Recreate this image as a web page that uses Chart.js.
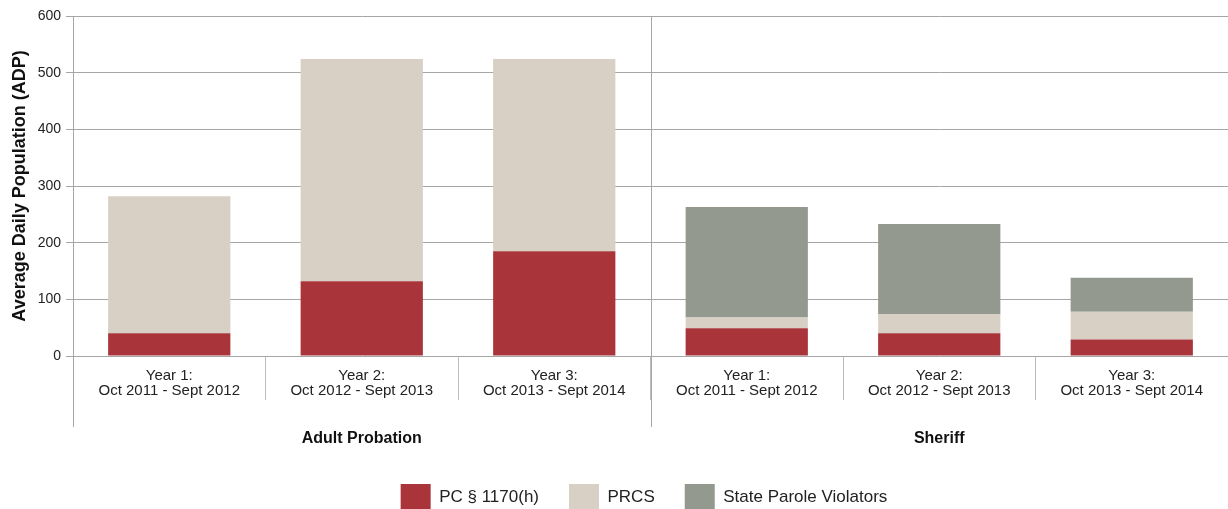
<!DOCTYPE html>
<html>
<head>
<meta charset="utf-8">
<script src="https://cdn.jsdelivr.net/npm/chart.js@4.4.1/dist/chart.umd.min.js"></script>
<style>
  html, body { margin: 0; padding: 0; background: #fff; }
  #wrap { width: 1228px; height: 509px; position: relative; }
</style>
</head>
<body>
<div id="wrap"><canvas id="adp-chart"></canvas></div>
<script>
// categories (two-line labels) and the two groups they belong to
const categories = [
    ['Year 1:', 'Oct 2011 - Sept 2012'],
    ['Year 2:', 'Oct 2012 - Sept 2013'],
    ['Year 3:', 'Oct 2013 - Sept 2014'],
    ['Year 1:', 'Oct 2011 - Sept 2012'],
    ['Year 2:', 'Oct 2012 - Sept 2013'],
    ['Year 3:', 'Oct 2013 - Sept 2014']
];
const groups = ['Adult Probation', 'Sheriff'];

// average daily population per series (first 3 = Adult Probation, last 3 = Sheriff)
const pcValues = [40, 132, 185, 49, 40, 29];
const prcsValues = [242, 392, 339, 19, 34, 49];
const spvValues = [null, null, null, 195, 159, 60];

const yTicks = [0, 100, 200, 300, 400, 500, 600];

Chart.defaults.font.family = "'Liberation Sans', Arial, sans-serif";
Chart.defaults.color = '#222';

// draws the long separator lines of the two-level x axis
const groupLines = {
    id: 'groupLines',
    afterLayout(chart) {
        // legend sits a little right of centre in the original
        chart.legend.left += 30;
        chart.legend.right += 30;
    },
    afterDraw(chart) {
        const ctx = chart.ctx;
        const area = chart.chartArea;
        const x = chart.scales.x;
        const mid = (x.getPixelForValue(2) + x.getPixelForValue(3)) / 2;
        const bottom = 427;
        ctx.save();
        ctx.strokeStyle = '#a6a6a6';
        ctx.lineWidth = 1;
        ctx.beginPath();
        ctx.moveTo(Math.round(area.left) + 0.5, area.bottom);
        ctx.lineTo(Math.round(area.left) + 0.5, bottom);
        ctx.moveTo(Math.round(mid) + 0.5, area.top);
        ctx.lineTo(Math.round(mid) + 0.5, bottom);
        ctx.stroke();
        ctx.restore();
    }
};

const ctx = document.getElementById('adp-chart').getContext('2d');
const adpChart = new Chart(ctx, {
    type: 'bar',
    data: {
        labels: categories,
        datasets: [
            { label: 'PC § 1170(h)', data: pcValues, backgroundColor: '#a9343a' },
            { label: 'PRCS', data: prcsValues, backgroundColor: '#d8d0c4' },
            { label: 'State Parole Violators', data: spvValues, backgroundColor: '#93998f' }
        ]
    },
    options: {
        responsive: true,
        maintainAspectRatio: false,
        animation: false,
        layout: { padding: { top: 16, right: 0, left: 0, bottom: -11 } },
        datasets: {
            bar: { categoryPercentage: 1, barPercentage: 0.635 }
        },
        scales: {
            x: {
                stacked: true,
                offset: true,
                grid: { offset: true, drawOnChartArea: false, drawTicks: true, tickLength: 44, color: '#bdbdbd' },
                border: { display: false },
                ticks: { padding: -32, font: { size: 15, lineHeight: 1.0 }, color: '#222', maxRotation: 0, autoSkip: false },
                afterFit(scale) { scale.height = 44; }
            },
            x2: {
                type: 'category',
                labels: groups,
                position: 'bottom',
                offset: true,
                grid: { display: false, drawTicks: false },
                border: { display: false },
                ticks: { padding: 29, font: { size: 16, weight: 'bold' }, color: '#111' },
                afterFit(scale) { scale.height = 54; }
            },
            y: {
                stacked: true,
                min: 0,
                max: 600,
                afterBuildTicks(scale) { scale.ticks = yTicks.map(v => ({ value: v })); },
                grid: { color: '#a6a6a6', tickLength: 7 },
                border: { color: '#a6a6a6' },
                ticks: { padding: 5, font: { size: 14 }, color: '#222' },
                title: { display: true, text: 'Average Daily Population (ADP)', font: { size: 18, weight: 'bold' }, color: '#111', padding: { top: 9, bottom: 2 } },
                afterFit(scale) { scale.width = 73; }
            }
        },
        plugins: {
            legend: {
                position: 'bottom',
                labels: { boxWidth: 30, boxHeight: 26, padding: 30, font: { size: 17 }, color: '#222' }
            },
            tooltip: { enabled: false }
        }
    },
    plugins: [groupLines]
});
</script>
</body>
</html>
